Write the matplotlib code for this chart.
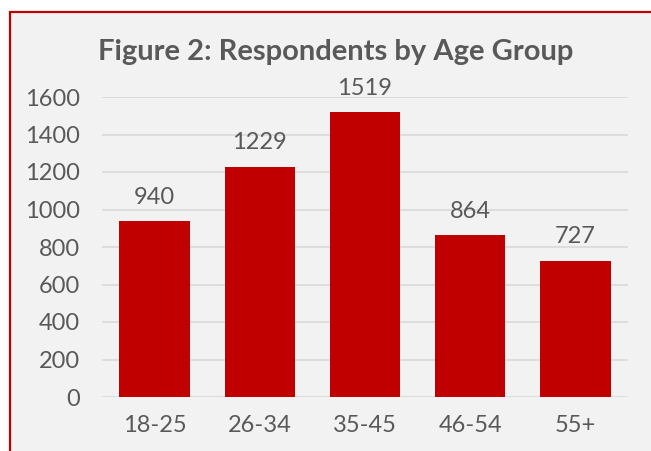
import matplotlib.pyplot as plt
from matplotlib.patches import Rectangle

# Data
age_groups = ['18-25', '26-34', '35-45', '46-54', '55+']
respondents = [940, 1229, 1519, 864, 727]
y_ticks = [0, 200, 400, 600, 800, 1000, 1200, 1400, 1600]

red = '#C00000'
grey_text = '#595959'
font = 'Lato'
W, H = 651, 451

fig = plt.figure(figsize=(W / 100, H / 100), dpi=100)
fig.patch.set_facecolor('white')

# chart frame (only top and left edges fall inside the canvas)
frame = Rectangle((10 / W, 0 - 0.05), 1.0, 1 - 11.5 / H + 0.05,
                  transform=fig.transFigure, facecolor='#F2F2F2',
                  edgecolor=red, linewidth=1.6, zorder=-5)
fig.patches.append(frame)

ax = fig.add_axes([102 / W, 1 - 397 / H, (628 - 102) / W, (397 - 97) / H])
ax.set_facecolor('none')

x = range(len(age_groups))
ax.bar(x, respondents, width=0.67, color=red, zorder=3)
for i, v in enumerate(respondents):
    ax.text(i, v + 92, str(v), ha='center', va='baseline', fontsize=17,
            color=grey_text, family=font)

ax.set_xlim(-0.5, len(age_groups) - 0.5)
ax.set_ylim(0, 1600)
ax.set_yticks(y_ticks)
ax.set_xticks(list(x))
ax.set_xticklabels(age_groups)
ax.yaxis.grid(True, color='#D9D9D9', linewidth=1.2, zorder=0)
ax.set_axisbelow(True)
for s in ax.spines.values():
    s.set_visible(False)
ax.tick_params(length=0, labelsize=17, colors=grey_text, pad=16)
ax.tick_params(axis='x', pad=13)
for lbl in ax.get_xticklabels() + ax.get_yticklabels():
    lbl.set_family(font)

fig.text(336 / W, 1 - 60 / H, 'Figure 2: Respondents by Age Group',
         ha='center', va='baseline', fontsize=21, fontweight='bold',
         color=grey_text, family=font)

fig.savefig('out.png', dpi=100)
